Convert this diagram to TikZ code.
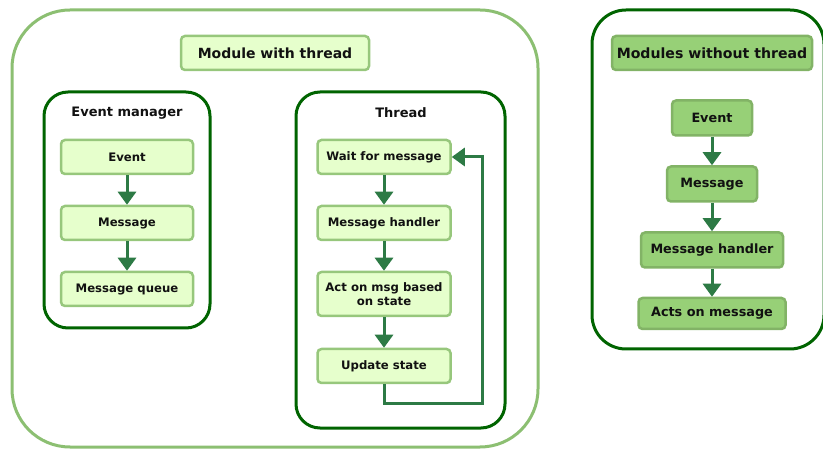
\documentclass[tikz,border=0pt]{standalone}
\usepackage{fontspec}
\setmainfont{DejaVu Sans}
\usetikzlibrary{arrows.meta}
\definecolor{paleFill}{HTML}{E6FFCC}
\definecolor{paleEdge}{HTML}{97C77C}
\definecolor{outerEdge}{HTML}{8CBF72}
\definecolor{darkEdge}{HTML}{006400}
\definecolor{flowArrow}{HTML}{2D7A45}
\definecolor{solidFill}{HTML}{97D077}
\definecolor{solidEdge}{HTML}{82B366}
\definecolor{ink}{HTML}{111111}
\begin{document}
\begin{tikzpicture}[x=1pt,y=-1pt,
  every node/.style={text=ink},
  stagebox/.style={draw=paleEdge, fill=paleFill, line width=2.5pt, rounded corners=4pt,
    inner sep=0pt, align=center, font=\bfseries\fontsize{11.7}{13.5}\selectfont},
  headbox/.style={stagebox, font=\bfseries\fontsize{14}{16}\selectfont},
  solidbox/.style={draw=solidEdge, fill=solidFill, line width=2.5pt, rounded corners=4pt,
    inner sep=0pt, align=center, font=\bfseries\fontsize{12.8}{15}\selectfont},
  solidhead/.style={solidbox, font=\bfseries\fontsize{14.1}{16}\selectfont},
  group/.style={draw=darkEdge, line width=3pt},
  grouplabel/.style={font=\bfseries\fontsize{13}{15}\selectfont},
  flow/.style={draw=flowArrow, line width=3pt, -{Triangle[length=13pt,width=18pt]}}
]
\useasboundingbox (0,0) rectangle (823,449);

% outer module with its own thread
\draw[draw=outerEdge, line width=3pt, rounded corners=58pt] (12,10) rectangle (538,447);
\node[headbox, minimum width=188pt, minimum height=34pt] (mwt) at (275,53) {Module with thread};

% event manager group
\draw[group, rounded corners=24pt] (44,92) rectangle (210,328);
\node[grouplabel] (emlabel) at (127,113) {Event manager};
\node[stagebox, minimum width=132pt, minimum height=34pt] (ev) at (127,157) {Event};
\node[stagebox, minimum width=132pt, minimum height=34pt] (msg) at (127,223) {Message};
\node[stagebox, minimum width=132pt, minimum height=34pt] (mq) at (127,289) {Message queue};
\draw[flow] (ev) -- (msg);
\draw[flow] (msg) -- (mq);

% thread group
\draw[group, rounded corners=24pt] (296,92) rectangle (505,428);
\node[grouplabel] (thlabel) at (401,113) {Thread};
\node[stagebox, minimum width=133pt, minimum height=34pt] (wait) at (384,157) {Wait for message};
\node[stagebox, minimum width=133pt, minimum height=34pt] (hand) at (384,223) {Message handler};
\node[stagebox, minimum width=133pt, minimum height=44pt] (act) at (384,294) {Act on msg based\\on state};
\node[stagebox, minimum width=133pt, minimum height=34pt] (upd) at (384,366) {Update state};
\draw[flow] (wait) -- (hand);
\draw[flow] (hand) -- (act);
\draw[flow] (act) -- (upd);
\coordinate (loopcorner) at (482,404);
\draw[flow] (upd.south) |- (loopcorner) |- (wait.east);

% modules without thread
\draw[group, rounded corners=34pt] (592,10) rectangle (824,349);
\node[solidhead, minimum width=200pt, minimum height=34pt] (mnt) at (712,53) {Modules without thread};
\node[solidbox, minimum width=80pt, minimum height=35pt] (rev) at (712,118) {Event};
\node[solidbox, minimum width=90pt, minimum height=35pt] (rmsg) at (712,184) {Message};
\node[solidbox, minimum width=142pt, minimum height=35pt] (rhand) at (712,250) {Message handler};
\node[solidbox, minimum width=147pt, minimum height=31pt] (racts) at (712,313.5) {Acts on message};
\draw[flow] (rev) -- (rmsg);
\draw[flow] (rmsg) -- (rhand);
\draw[flow] (rhand) -- (racts);
\end{tikzpicture}
\end{document}
